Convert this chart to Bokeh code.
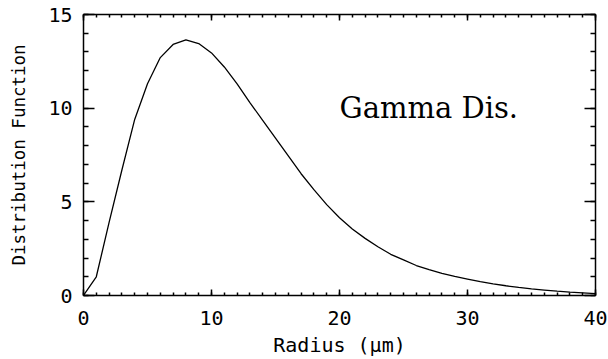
from bokeh.plotting import figure
from bokeh.models import Range1d, LinearAxis, SingleIntervalTicker
from bokeh.core.properties import value
from bokeh.embed import file_html
from bokeh.resources import INLINE

# Data
radius = [0, 1, 2, 3, 4, 5, 6, 7, 8, 9, 10, 11, 12, 13, 14, 15, 16, 17, 18, 19, 20,
          21, 22, 23, 24, 25, 26, 27, 28, 29, 30, 31, 32, 33, 34, 35, 36, 37, 38, 39, 40]
dist = [0.0, 1.0, 3.9, 6.7, 9.4, 11.3, 12.7, 13.4, 13.65, 13.45, 12.95, 12.2, 11.3, 10.3,
        9.35, 8.4, 7.45, 6.5, 5.65, 4.85, 4.15, 3.55, 3.05, 2.6, 2.2, 1.9, 1.6, 1.38, 1.18,
        1.02, 0.88, 0.74, 0.62, 0.52, 0.43, 0.35, 0.29, 0.23, 0.18, 0.14, 0.1]
x_ticks_interval = 10
y_ticks_interval = 5
label_text = "Gamma Dis."
label_x = 20
label_y = 10

MONO = "DejaVu Sans Mono"

p = figure(width=608, height=359, output_backend="svg", toolbar_location=None,
           x_range=Range1d(0, 40), y_range=Range1d(0, 15),
           x_axis_location=None, y_axis_location=None,
           min_border_left=83, min_border_right=13, min_border_top=14, min_border_bottom=63)
p.xgrid.visible = False
p.ygrid.visible = False
p.outline_line_color = None
p.background_fill_color = "white"
p.border_fill_color = "white"


def style(ax, tick_major, tick_minor, labels=True):
    ax.axis_line_color = "black"
    ax.axis_line_width = 1.5
    ax.major_tick_line_color = "black"
    ax.minor_tick_line_color = "black"
    ax.major_tick_line_width = 1.5
    ax.minor_tick_line_width = 1.5
    ax.major_tick_in = tick_major
    ax.major_tick_out = 0
    ax.minor_tick_in = tick_minor
    ax.minor_tick_out = 0
    if labels:
        ax.major_label_text_font = MONO
        ax.major_label_text_font_size = "20px"
        ax.major_label_text_color = "black"
    else:
        ax.major_label_text_font_size = "0px"
        ax.major_label_text_color = None
        ax.major_label_standoff = 0


xb = LinearAxis(ticker=SingleIntervalTicker(interval=x_ticks_interval, num_minor_ticks=10),
                axis_label="Radius (\u03bcm)")
style(xb, 6, 3)
xb.major_label_standoff = 15
xb.axis_label_standoff = 5
xb.axis_label_text_font = MONO
xb.axis_label_text_font_style = "normal"
xb.axis_label_text_font_size = "20px"
xb.axis_label_text_color = "black"
p.add_layout(xb, "below")

xt = LinearAxis(ticker=SingleIntervalTicker(interval=x_ticks_interval, num_minor_ticks=10))
style(xt, 6, 3, labels=False)
p.add_layout(xt, "above")

yl = LinearAxis(ticker=SingleIntervalTicker(interval=y_ticks_interval, num_minor_ticks=5),
                axis_label="Distribution Function")
style(yl, 11, 5)
yl.major_label_standoff = 11
yl.axis_label_standoff = 16
yl.axis_label_text_font = MONO
yl.axis_label_text_font_style = "normal"
yl.axis_label_text_font_size = "17.5px"
yl.axis_label_text_color = "black"
p.add_layout(yl, "left")

yr = LinearAxis(ticker=SingleIntervalTicker(interval=y_ticks_interval, num_minor_ticks=5))
style(yr, 11, 5, labels=False)
p.add_layout(yr, "right")

p.line(radius, dist, line_color="black", line_width=1.3)

p.text(x=[label_x], y=[label_y], text=[label_text], text_font=value("DejaVu Serif"),
       text_font_size="29px", text_align="left", text_baseline="alphabetic",
       text_color="black")

open("out.html", "w").write(file_html(p, INLINE))
